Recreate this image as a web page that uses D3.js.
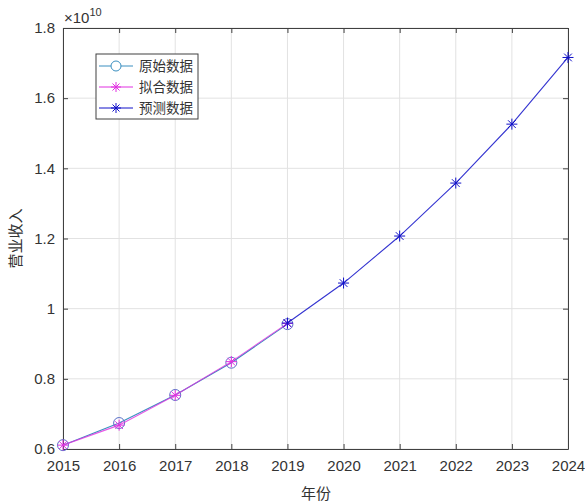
<!DOCTYPE html>
<html>
<head>
<meta charset="utf-8">
<script src="https://cdn.jsdelivr.net/npm/d3@7"></script>
<style>
  body { margin: 0; background: #fff; }
  svg { display: block; }
</style>
</head>
<body>
<div id="chart"></div>
<script>
// values in units of 1e10
const years = [2015, 2016, 2017, 2018, 2019, 2020, 2021, 2022, 2023, 2024];
const origYears = [2015, 2016, 2017, 2018, 2019];
const origVals = [0.611, 0.674, 0.754, 0.846, 0.956];
const fitYears = [2015, 2016, 2017, 2018, 2019];
const fitVals = [0.611, 0.668, 0.753, 0.849, 0.958];
const predYears = [2019, 2020, 2021, 2022, 2023, 2024];
const predVals = [0.959, 1.073, 1.207, 1.358, 1.526, 1.716];
const yTicks = [0.6, 0.8, 1, 1.2, 1.4, 1.6, 1.8];
const legendLabels = ["原始数据", "拟合数据", "预测数据"];

const W = 585, H = 504;
const mL = 63, mR = 568, mT = 28, mB = 449;

const svg = d3.select("#chart").append("svg")
    .attr("width", W)
    .attr("height", H)
    .style("font-family", "'Liberation Sans', Arial, sans-serif");

const x = d3.scaleLinear().domain([2015, 2024]).range([mL, mR]);
const y = d3.scaleLinear().domain([0.6, 1.8]).range([mB, mT]);

// grid
svg.selectAll(".gx").data(years).enter().append("line")
    .attr("x1", d => x(d)).attr("x2", d => x(d))
    .attr("y1", mT).attr("y2", mB)
    .attr("stroke", "#e2e2e2").attr("stroke-width", 1);
svg.selectAll(".gy").data(yTicks).enter().append("line")
    .attr("x1", mL).attr("x2", mR)
    .attr("y1", d => y(d)).attr("y2", d => y(d))
    .attr("stroke", "#e2e2e2").attr("stroke-width", 1);

// axes with inward ticks
const xAxis = svg.append("g").attr("transform", `translate(0,${mB})`)
    .call(d3.axisBottom(x).tickValues(years).tickFormat(d3.format("d")).tickSizeInner(-5).tickSizeOuter(0).tickPadding(11));
const xTop = svg.append("g").attr("transform", `translate(0,${mT})`)
    .call(d3.axisTop(x).tickValues(years).tickFormat("").tickSizeInner(-5).tickSizeOuter(0));
const yAxis = svg.append("g").attr("transform", `translate(${mL},0)`)
    .call(d3.axisLeft(y).tickValues(yTicks).tickFormat(d => d === 1 ? "1" : d3.format(".1f")(d)).tickSizeInner(-5).tickSizeOuter(0).tickPadding(8));
const yRight = svg.append("g").attr("transform", `translate(${mR},0)`)
    .call(d3.axisRight(y).tickValues(yTicks).tickFormat("").tickSizeInner(-5).tickSizeOuter(0));

[xAxis, xTop, yAxis, yRight].forEach(g => {
  g.selectAll("path").attr("stroke", "#404040").attr("stroke-width", 1);
  g.selectAll("line").attr("stroke", "#404040");
  g.selectAll("text").attr("fill", "#333").style("font-size", "15px");
});

// exponent label
const ex = svg.append("text").attr("x", mL + 1).attr("y", 23)
    .attr("fill", "#333").style("font-size", "15px");
ex.append("tspan").text("×10");
ex.append("tspan").attr("dy", -7).style("font-size", "11px").text("10");

// axis titles
svg.append("text").attr("x", 316).attr("y", 499)
    .attr("text-anchor", "middle").attr("fill", "#333")
    .style("font-family", "'Noto Sans CJK SC', sans-serif").style("font-size", "15px")
    .text("年份");
svg.append("text").attr("transform", `translate(21,${(mT + mB) / 2}) rotate(-90)`)
    .attr("text-anchor", "middle").attr("fill", "#333")
    .style("font-family", "'Noto Sans CJK SC', sans-serif").style("font-size", "15px")
    .text("营业收入");

const line = d3.line().x(d => x(d[0])).y(d => y(d[1]));
const orig = d3.zip(origYears, origVals);
const fit = d3.zip(fitYears, fitVals);
const pred = d3.zip(predYears, predVals);

const cOrig = "#3a8fc0", cFit = "#e030e0", cPred = "#1010c8";

function star(g, px, py, r, color) {
  [[-r, 0, r, 0], [0, -r, 0, r], [-r * 0.7, -r * 0.7, r * 0.7, r * 0.7], [-r * 0.7, r * 0.7, r * 0.7, -r * 0.7]]
    .forEach(s => g.append("line")
      .attr("x1", px + s[0]).attr("y1", py + s[1]).attr("x2", px + s[2]).attr("y2", py + s[3])
      .attr("stroke", color).attr("stroke-width", 1));
}

// original
svg.append("path").datum(orig).attr("d", line).attr("fill", "none").attr("stroke", cOrig).attr("stroke-width", 1.1);
svg.selectAll(".co").data(orig).enter().append("circle")
    .attr("cx", d => x(d[0])).attr("cy", d => y(d[1])).attr("r", 5.5)
    .attr("fill", "none").attr("stroke", "#5a70c8").attr("stroke-width", 1);

// fit
svg.append("path").datum(fit).attr("d", line).attr("fill", "none").attr("stroke", cFit).attr("stroke-width", 1.1).attr("opacity", 0.8);
const gFit = svg.append("g");
fit.forEach(d => star(gFit, x(d[0]), y(d[1]), 5.5, cFit));

// prediction
svg.append("path").datum(pred).attr("d", line).attr("fill", "none").attr("stroke", cPred).attr("stroke-width", 1.1).attr("opacity", 0.85);
const gPred = svg.append("g");
pred.forEach(d => star(gPred, x(d[0]), y(d[1]), 5.5, cPred));

// legend
const lg = svg.append("g");
lg.append("rect").attr("x", 96).attr("y", 54).attr("width", 102).attr("height", 65)
    .attr("fill", "#fff").attr("stroke", "#404040").attr("stroke-width", 1);
const lcolors = [cOrig, cFit, cPred];
legendLabels.forEach((lab, i) => {
  const ly = 66 + i * 21;
  lg.append("line").attr("x1", 99).attr("x2", 133).attr("y1", ly).attr("y2", ly)
    .attr("stroke", lcolors[i]).attr("stroke-width", 1);
  if (i === 0) {
    lg.append("circle").attr("cx", 116).attr("cy", ly).attr("r", 5)
      .attr("fill", "#fff").attr("stroke", cOrig);
  } else {
    star(lg, 116, ly, 5, lcolors[i]);
  }
  lg.append("text").attr("x", 139).attr("y", ly + 5)
    .attr("fill", "#333")
    .style("font-family", "'Noto Sans CJK SC', sans-serif").style("font-size", "13.5px")
    .text(lab);
});
</script>
</body>
</html>
